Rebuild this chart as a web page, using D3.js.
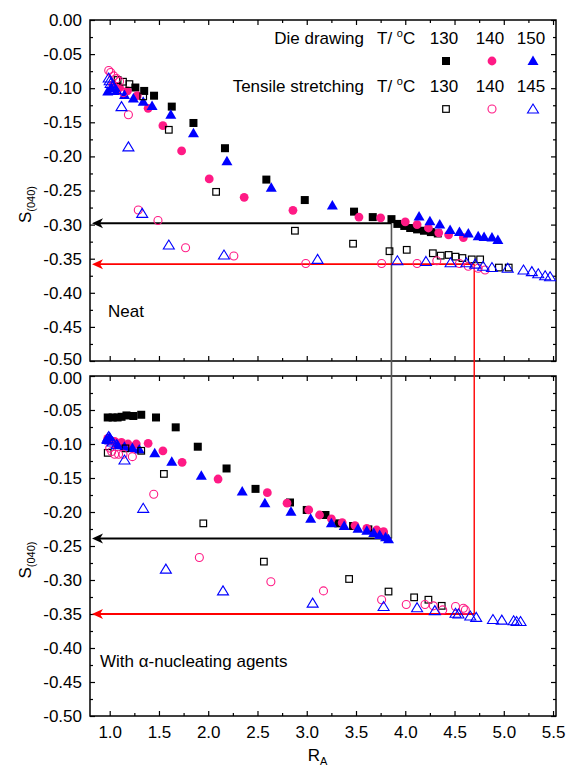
<!DOCTYPE html>
<html><head><meta charset="utf-8">
<script src="https://cdn.jsdelivr.net/npm/d3@7"></script>
<style>
html,body{margin:0;padding:0;background:#fff;}
svg{display:block;font-family:Arial,"Liberation Sans",sans-serif;}
</style></head>
<body>
<svg id="chart" width="569" height="766"></svg>
<script>
// ---------- DATA ----------
const xTickValues = [1.0,1.5,2.0,2.5,3.0,3.5,4.0,4.5,5.0,5.5];
const yTickValues = [0,-0.05,-0.10,-0.15,-0.20,-0.25,-0.30,-0.35,-0.40,-0.45,-0.50];
const legendTitles = ["Die drawing", "Tensile stretching"];
const legendTemps = [["130","140","150"],["130","140","145"]];
const panelLabels = ["Neat", "With \u03b1-nucleating agents"];

// Neat – die drawing (filled) 130/140/150 °C
const neatDD130 = [[1.26,-0.099],[1.35,-0.104],[1.45,-0.111],[1.63,-0.127],[1.85,-0.151],[2.17,-0.188],[2.59,-0.234],[2.98,-0.264],[3.48,-0.281],[3.67,-0.289],[3.86,-0.292],[3.92,-0.299],[3.99,-0.302],[4.05,-0.305],[4.12,-0.307],[4.19,-0.309],[4.26,-0.311],[4.33,-0.313]];
const neatDD140 = [[1.03,-0.095],[1.10,-0.099],[1.18,-0.104],[1.28,-0.111],[1.39,-0.1295],[1.54,-0.155],[1.73,-0.192],[2.01,-0.233],[2.365,-0.260],[2.86,-0.279],[3.53,-0.289],[3.75,-0.290],[4.00,-0.296],[4.12,-0.300],[4.235,-0.305],[4.34,-0.312],[4.44,-0.315],[4.59,-0.319]];
const neatDD150 = [[0.98,-0.105],[1.02,-0.100],[1.07,-0.104],[1.15,-0.110],[1.24,-0.115],[1.34,-0.120],[1.43,-0.126],[1.62,-0.139],[1.85,-0.166],[2.19,-0.207],[2.64,-0.246],[3.26,-0.272],[4.14,-0.288],[4.25,-0.295],[4.35,-0.300],[4.455,-0.308],[4.55,-0.311],[4.64,-0.313],[4.74,-0.317],[4.80,-0.318],[4.88,-0.319],[4.94,-0.3226]];
// Neat – tensile stretching (open) 130/140/145 °C
const neatTS130 = [[1.08,-0.088],[1.135,-0.0905],[1.20,-0.094],[1.34,-0.112],[1.60,-0.161],[2.08,-0.252],[2.88,-0.309],[3.47,-0.328],[3.84,-0.339],[4.015,-0.337],[4.28,-0.342],[4.36,-0.3455],[4.44,-0.3445],[4.51,-0.347],[4.58,-0.349],[4.675,-0.351],[4.76,-0.351],[4.95,-0.363],[5.05,-0.363]];
const neatTS140 = [[0.99,-0.074],[1.01,-0.077],[1.04,-0.082],[1.07,-0.086],[1.10,-0.090],[1.14,-0.1065],[1.19,-0.139],[1.29,-0.2786],[1.49,-0.294],[1.77,-0.334],[2.26,-0.346],[2.99,-0.357],[3.76,-0.357],[4.12,-0.357],[4.32,-0.353],[4.55,-0.357],[4.64,-0.361],[4.74,-0.364],[4.81,-0.3666]];
const neatTS145 = [[0.99,-0.085],[1.00,-0.089],[1.01,-0.093],[1.03,-0.097],[1.06,-0.102],[1.12,-0.127],[1.19,-0.186],[1.33,-0.2835],[1.60,-0.330],[2.16,-0.3446],[3.11,-0.351],[3.92,-0.353],[4.21,-0.354],[4.46,-0.356],[4.62,-0.356],[4.71,-0.358],[4.79,-0.361],[4.88,-0.363],[5.04,-0.364],[5.20,-0.3666],[5.285,-0.369],[5.35,-0.372],[5.42,-0.375],[5.47,-0.3765]];

// With alpha-nucleating agents
const nucDD130 = [[0.98,-0.061],[1.03,-0.061],[1.08,-0.061],[1.12,-0.060],[1.17,-0.058],[1.24,-0.0588],[1.32,-0.057],[1.47,-0.061],[1.67,-0.0755],[1.894,-0.104],[2.186,-0.136],[2.48,-0.166],[2.83,-0.186],[3.00,-0.197],[3.19,-0.2044],[3.32,-0.2167],[3.47,-0.2206],[3.625,-0.2255],[3.71,-0.230],[3.78,-0.234]];
const nucDD140 = [[0.98,-0.0917],[1.05,-0.096],[1.12,-0.0975],[1.186,-0.100],[1.27,-0.100],[1.39,-0.099],[1.54,-0.110],[1.735,-0.127],[2.10,-0.1515],[2.60,-0.1716],[2.80,-0.187],[3.02,-0.197],[3.13,-0.2044],[3.25,-0.210],[3.36,-0.2157],[3.49,-0.220],[3.61,-0.224],[3.71,-0.2265],[3.78,-0.229]];
const nucDD150 = [[0.97,-0.094],[1.00,-0.090],[1.08,-0.1015],[1.15,-0.104],[1.23,-0.106],[1.30,-0.108],[1.457,-0.1137],[1.63,-0.126],[1.93,-0.1466],[2.345,-0.170],[2.575,-0.187],[2.84,-0.1995],[3.04,-0.210],[3.25,-0.2167],[3.38,-0.2206],[3.52,-0.2245],[3.61,-0.2275],[3.68,-0.231],[3.74,-0.234],[3.80,-0.237],[3.83,-0.240]];
const nucTS130 = [[0.98,-0.113],[1.16,-0.1064],[1.32,-0.110],[1.55,-0.144],[1.95,-0.2167],[2.565,-0.273],[3.43,-0.2985],[3.83,-0.317],[4.09,-0.3255],[4.235,-0.329],[4.37,-0.338]];
const nucTS140 = [[1.00,-0.106],[1.02,-0.111],[1.05,-0.115],[1.09,-0.115],[1.135,-0.115],[1.23,-0.1186],[1.447,-0.174],[1.91,-0.267],[2.636,-0.3025],[3.17,-0.316],[3.76,-0.329],[4.01,-0.336],[4.20,-0.336],[4.285,-0.338],[4.38,-0.344],[4.51,-0.339],[4.59,-0.3416],[4.61,-0.344]];
const nucTS145 = [[0.98,-0.0917],[0.99,-0.089],[1.01,-0.094],[1.03,-0.097],[1.07,-0.101],[1.15,-0.1235],[1.34,-0.1946],[1.57,-0.284],[2.15,-0.316],[3.06,-0.334],[3.78,-0.339],[4.12,-0.3407],[4.30,-0.345],[4.51,-0.349],[4.54,-0.350],[4.66,-0.353],[4.72,-0.355],[4.89,-0.358],[4.98,-0.359],[5.10,-0.360],[5.13,-0.361],[5.17,-0.361]];

// guide arrows: x position of vertical drop, S value in each panel
const guideX = [3.86, 4.70];
const guideTopY = [-0.298, -0.358];
const guideBotY = [-0.239, -0.350];
const guideColors = ["#000000", "#ff0000"];

// ---------- LAYOUT ----------
const PINK = "#ff1a85", BLUE = "#0000ff", BLACK = "#000000";
const svg = d3.select("#chart");
const FS = 17;
const x = d3.scaleLinear().domain([0.8, 5.53]).range([90, 556]);
const yTop = d3.scaleLinear().domain([-0.5, 0]).range([361, 20]);
const yBot = d3.scaleLinear().domain([-0.5, 0]).range([716, 376]);

const fmt = d => (Math.abs(d) < 1e-9 ? "0.00" : d.toFixed(2));
const minorX = d3.range(0.75, 5.6, 0.5).filter(v => v > 0.8 && v < 5.53);
const minorY = d3.range(-0.475, 0, 0.05);

function styleAxis(g){
  g.select(".domain").remove();
  g.selectAll("line").attr("stroke","#000").attr("stroke-width",1.2);
  g.selectAll("text").attr("fill","#000").style("font-size",FS+"px").style("font-family","Arial, 'Liberation Sans', sans-serif");
}

function drawPanel(y, showXLabels, isTop){
  const [y0,y1] = [y.range()[1], y.range()[0]];
  // left
  const la = svg.append("g").attr("transform","translate(90,0)")
    .call(d3.axisLeft(y).tickValues(yTickValues).tickFormat(fmt).tickSize(-5).tickSizeOuter(0).tickPadding(8)).call(styleAxis);
  // keep the -0.50 / 0.00 labels of adjacent panels from touching
  la.selectAll(".tick text").filter(d => isTop ? d === -0.5 : d === 0)
    .attr("y", isTop ? -2 : 2);
  svg.append("g").attr("transform","translate(90,0)")
    .call(d3.axisLeft(y).tickValues(minorY).tickFormat("").tickSize(-3).tickSizeOuter(0)).call(styleAxis);
  // right
  svg.append("g").attr("transform","translate(556,0)")
    .call(d3.axisRight(y).tickValues(yTickValues).tickFormat("").tickSize(-5).tickSizeOuter(0)).call(styleAxis);
  svg.append("g").attr("transform","translate(556,0)")
    .call(d3.axisRight(y).tickValues(minorY).tickFormat("").tickSize(-3).tickSizeOuter(0)).call(styleAxis);
  // top
  svg.append("g").attr("transform",`translate(0,${y0})`)
    .call(d3.axisTop(x).tickValues(xTickValues).tickFormat("").tickSize(-5).tickSizeOuter(0)).call(styleAxis);
  svg.append("g").attr("transform",`translate(0,${y0})`)
    .call(d3.axisTop(x).tickValues(minorX).tickFormat("").tickSize(-3).tickSizeOuter(0)).call(styleAxis);
  // bottom
  svg.append("g").attr("transform",`translate(0,${y1})`)
    .call(d3.axisBottom(x).tickValues(xTickValues).tickFormat(showXLabels ? d3.format(".1f") : "").tickSize(-5).tickSizeOuter(0).tickPadding(10)).call(styleAxis);
  svg.append("g").attr("transform",`translate(0,${y1})`)
    .call(d3.axisBottom(x).tickValues(minorX).tickFormat("").tickSize(-3).tickSizeOuter(0)).call(styleAxis);
  // frame
  svg.append("rect").attr("x",90).attr("y",y0).attr("width",466).attr("height",y1-y0)
    .attr("fill","none").attr("stroke","#000").attr("stroke-width",1.5);
  // y label
  const cy = (y0+y1)/2 + 14;
  const t = svg.append("text").attr("transform",`translate(31,${cy}) rotate(-90)`)
    .attr("text-anchor","middle").style("font-size",FS+"px").attr("fill","#000");
  t.append("tspan").text("S");
  t.append("tspan").attr("dy",4).style("font-size","11px").text("(040)");
}

drawPanel(yTop, false, true);
drawPanel(yBot, true, false);

// x label
const xl = svg.append("text").attr("x", x(3.11)).attr("y", 761).attr("text-anchor","middle").style("font-size",FS+"px");
xl.append("tspan").text("R");
xl.append("tspan").attr("dy",4).style("font-size","11px").text("A");

// guide lines with arrows
function arrowHead(px, py, color){
  svg.append("path").attr("d",`M${px},${py} L${px+11},${py-5} L${px+8},${py} L${px+11},${py+5} Z`).attr("fill",color);
}
guideX.forEach((gx,i)=>{
  const c = guideColors[i];
  const xp = x(gx);
  const ya = yTop(guideTopY[i]), yb = yBot(guideBotY[i]);
  svg.append("line").attr("x1",xp).attr("x2",xp).attr("y1",ya).attr("y2",yb)
    .attr("stroke", i===0 ? "#555" : c).attr("stroke-width", i===0 ? 1.6 : 1.4);
  [ya,yb].forEach(yy=>{
    svg.append("line").attr("x1",xp).attr("x2",99).attr("y1",yy).attr("y2",yy).attr("stroke",c).attr("stroke-width",1.8);
    arrowHead(92, yy, c);
  });
});

// markers
function marker(g, type, cx, cy, color){
  if(type==="sqF") g.append("rect").attr("x",cx-4).attr("y",cy-4).attr("width",8).attr("height",8).attr("fill",color);
  else if(type==="ciF") g.append("circle").attr("cx",cx).attr("cy",cy).attr("r",4.4).attr("fill",color);
  else if(type==="trF") g.append("path").attr("d",`M${cx},${cy-5.5} L${cx+5.5},${cy+4} L${cx-5.5},${cy+4} Z`).attr("fill",color);
  else if(type==="sqO") g.append("rect").attr("x",cx-3.3).attr("y",cy-3.3).attr("width",6.6).attr("height",6.6).attr("fill","none").attr("stroke",color).attr("stroke-width",1.2);
  else if(type==="ciO") g.append("circle").attr("cx",cx).attr("cy",cy).attr("r",4).attr("fill","none").attr("stroke",color).attr("stroke-width",1.1);
  else if(type==="trO") g.append("path").attr("d",`M${cx},${cy-5} L${cx+5.5},${cy+4} L${cx-5.5},${cy+4} Z`).attr("fill","none").attr("stroke",color).attr("stroke-width",1.1);
}
const seriesDefs = [
  {key:"DD130", type:"sqF", color:BLACK},
  {key:"DD140", type:"ciF", color:PINK},
  {key:"DD150", type:"trF", color:BLUE},
  {key:"TS130", type:"sqO", color:BLACK},
  {key:"TS140", type:"ciO", color:PINK},
  {key:"TS145", type:"trO", color:BLUE}
];
const neatData = {DD130:neatDD130, DD140:neatDD140, DD150:neatDD150, TS130:neatTS130, TS140:neatTS140, TS145:neatTS145};
const nucData = {DD130:nucDD130, DD140:nucDD140, DD150:nucDD150, TS130:nucTS130, TS140:nucTS140, TS145:nucTS145};
[[neatData,yTop],[nucData,yBot]].forEach(([data,y])=>{
  const g = svg.append("g");
  seriesDefs.forEach(s=>{
    data[s.key].forEach(d=> marker(g, s.type, x(d[0]), y(d[1]), s.color));
  });
});

// legend
const legRowsY = [44, 92];
const legSymDy = 17;
const tempX = [444, 490, 531];
legendTitles.forEach((title,r)=>{
  const ty = legRowsY[r];
  svg.append("text").attr("x",364).attr("y",ty).attr("text-anchor","end").style("font-size",FS+"px").text(title);
  const tt = svg.append("text").attr("x",377).attr("y",ty).style("font-size",FS+"px");
  tt.append("tspan").text("T/ ");
  tt.append("tspan").attr("dy",-7).style("font-size","11px").text("o");
  tt.append("tspan").attr("dy",7).text("C");
  legendTemps[r].forEach((tv,k)=>{
    svg.append("text").attr("x",tempX[k]).attr("y",ty).attr("text-anchor","middle").style("font-size",FS+"px").text(tv);
    const s = seriesDefs[r*3+k];
    marker(svg, s.type, tempX[k]+2, ty+legSymDy, s.color);
  });
});

// panel labels
svg.append("text").attr("x",108).attr("y",317).style("font-size",FS+"px").text(panelLabels[0]);
svg.append("text").attr("x",100).attr("y",667).style("font-size",FS+"px").text(panelLabels[1]);
</script>
</body></html>
